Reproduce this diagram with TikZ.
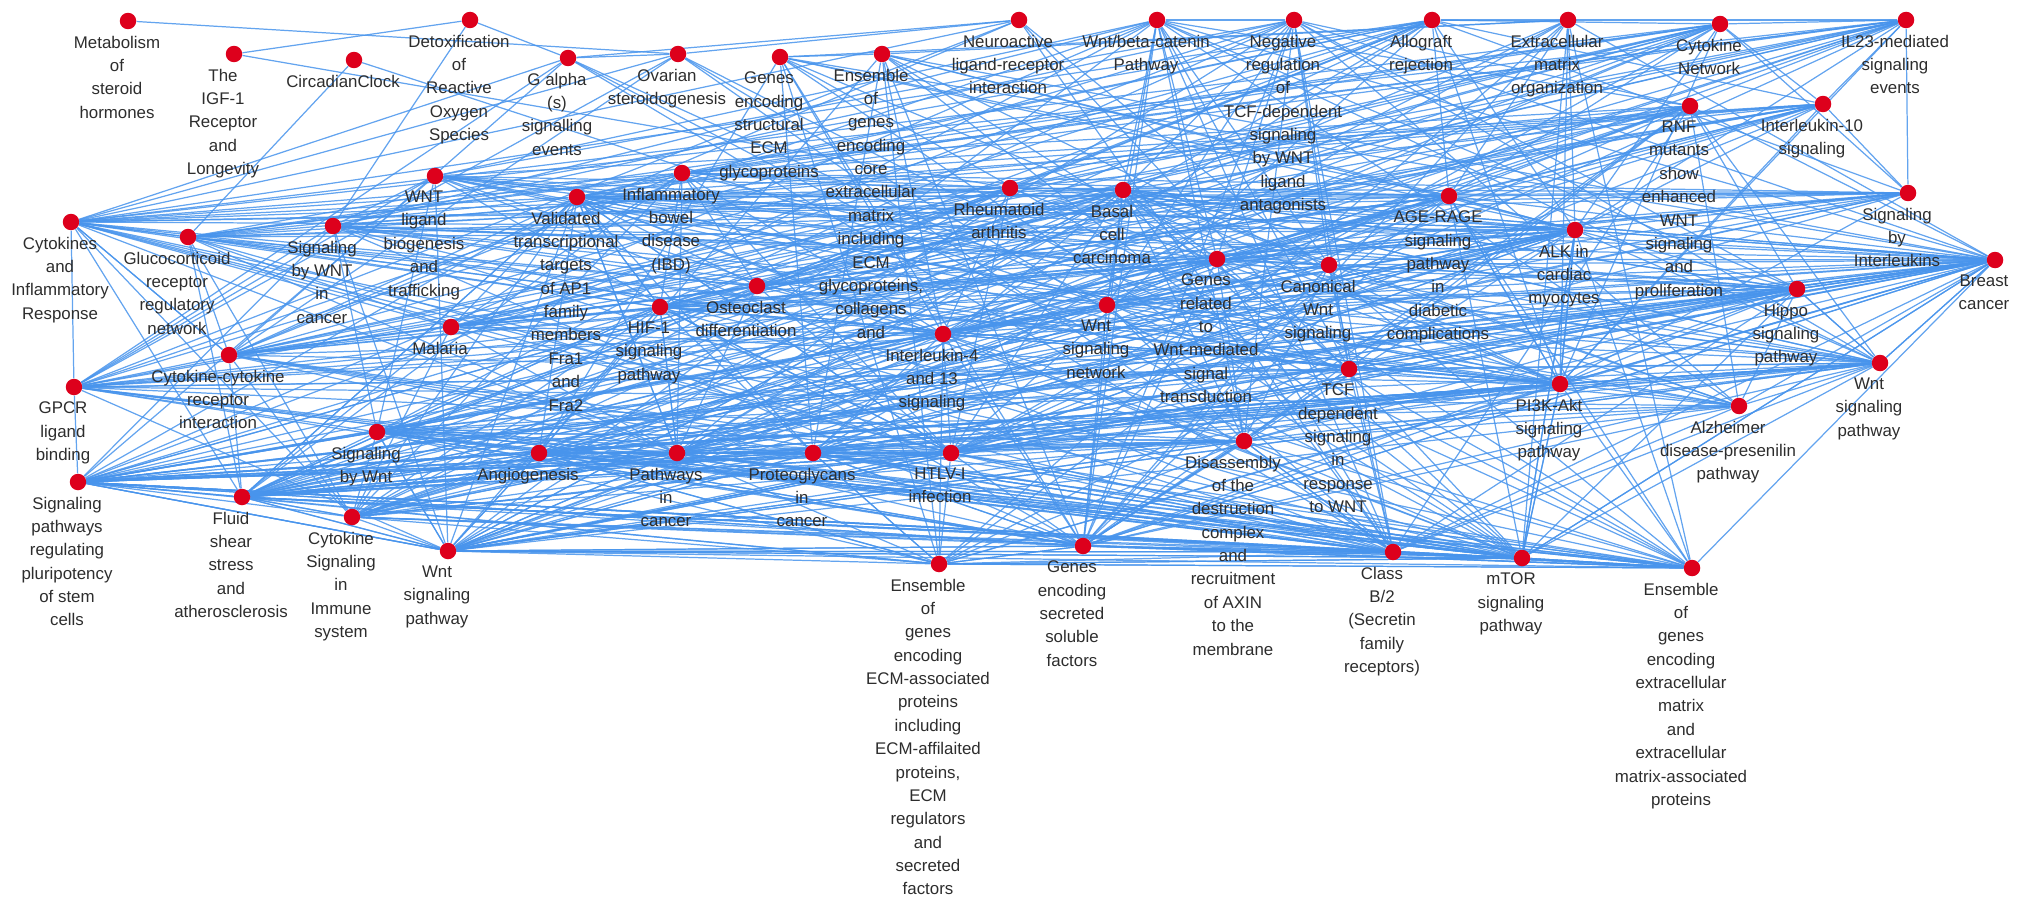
\documentclass[tikz,border=0pt]{standalone}
\usepackage{fontspec}
\setmainfont{Liberation Sans}
\usepackage{xcolor}
\usepackage{tikz}
\usetikzlibrary{positioning,backgrounds}

\definecolor{dotRed}{RGB}{221,0,28}
\definecolor{edgeBlue}{RGB}{72,148,236}
\definecolor{lblGray}{RGB}{45,45,45}

\tikzset{
  dot/.style = {circle, fill = dotRed, inner sep = 0pt, minimum size = 0.33cm},
  lbl/.style = {align = center, inner sep = 0pt, text = lblGray,
    font = \fontsize{9.6}{13.3}\selectfont, xshift = -0.22cm},
  link/.style = {edgeBlue, line width = 0.7pt, opacity = 0.85}
}

% every pair of a group gets a line
\newcommand{\linkgroup}[1]{%
  \foreach \a [count = \i] in {#1} {
    \foreach \b [count = \j] in {#1} {
      \ifnum\j>\i\relax \draw[link] (\a) -- (\b); \fi
    }
  }}

\begin{document}
\begin{tikzpicture}[x = 0.02cm, y = -0.02cm]
  \useasboundingbox (0,0) rectangle (2031,909);

  % top rows
  \node[dot] (met) at (128,21) {};
  \node[dot] (igf) at (234,54) {};
  \node[dot] (circ) at (354,60) {};
  \node[dot] (detox) at (470,20) {};
  \node[dot] (galpha) at (568,58) {};
  \node[dot] (ovar) at (678,54) {};
  \node[dot] (gestruct) at (780,57) {};
  \node[dot] (enscore) at (882,54) {};
  \node[dot] (neuro) at (1019,20) {};
  \node[dot] (wntbeta) at (1157,20) {};
  \node[dot] (negreg) at (1294,20) {};
  \node[dot] (allo) at (1432,20) {};
  \node[dot] (ecmorg) at (1568,20) {};
  \node[dot] (cytnet) at (1720,24) {};
  \node[dot] (il23) at (1906,20) {};
  \node[dot] (rnf) at (1690,106) {};
  \node[dot] (il10) at (1823,104) {};

  % middle
  \node[dot] (wntlig) at (435,176) {};
  \node[dot] (ibd) at (682,173) {};
  \node[dot] (ap1) at (577,197) {};
  \node[dot] (ra) at (1010,188) {};
  \node[dot] (bcc) at (1123,190) {};
  \node[dot] (agerage) at (1449,196) {};
  \node[dot] (sigil) at (1908,193) {};
  \node[dot] (cytinf) at (71,222) {};
  \node[dot] (gluco) at (188,237) {};
  \node[dot] (wntcancer) at (333,226) {};
  \node[dot] (alk) at (1575,230) {};
  \node[dot] (breast) at (1995,260) {};
  \node[dot] (wntmed) at (1217,259) {};
  \node[dot] (canon) at (1329,265) {};
  \node[dot] (osteo) at (757,286) {};
  \node[dot] (hif) at (660,307) {};
  \node[dot] (wntnet) at (1107,305) {};
  \node[dot] (hippo) at (1797,289) {};
  \node[dot] (malaria) at (451,327) {};
  \node[dot] (il4) at (943,334) {};
  \node[dot] (ccri) at (229,355) {};
  \node[dot] (gpcr) at (74,387) {};
  \node[dot] (tcf) at (1349,369) {};
  \node[dot] (wntpathr) at (1880,363) {};
  \node[dot] (pi3k) at (1560,384) {};
  \node[dot] (alz) at (1739,406) {};
  \node[dot] (sigwnt) at (377,432) {};
  \node[dot] (disasm) at (1244,441) {};
  \node[dot] (angio) at (539,453) {};
  \node[dot] (pathcan) at (677,453) {};
  \node[dot] (proteo) at (813,453) {};
  \node[dot] (htlv) at (951,453) {};

  % bottom rows
  \node[dot] (pluri) at (78,482) {};
  \node[dot] (fluid) at (242,497) {};
  \node[dot] (cytimm) at (352,517) {};
  \node[dot] (wntpathl) at (448,551) {};
  \node[dot] (ensassoc) at (939,564) {};
  \node[dot] (secreted) at (1083,546) {};
  \node[dot] (classb) at (1393,552) {};
  \node[dot] (mtor) at (1522,558) {};
  \node[dot] (ensecm) at (1692,568) {};

  \begin{scope}[on background layer]
    \draw[link] (met) -- (ovar);
    \draw[link] (igf) -- (detox);
    \draw[link] (igf) -- (ra);
    \draw[link] (circ) -- (gluco);
    \draw[link] (circ) -- (wntnet);
    \draw[link] (detox) -- (wntcancer);
    \draw[link] (detox) -- (galpha);

    % wnt
    \linkgroup{wntbeta,negreg,rnf,wntlig,wntcancer,wntmed,canon,wntnet,tcf,wntpathr,wntpathl,sigwnt,disasm,bcc,breast,alz,hippo,pluri,secreted,gpcr,classb}
    % immune
    \linkgroup{cytnet,il23,il10,sigil,cytinf,ccri,cytimm,ibd,ra,allo,malaria,il4,htlv,agerage,fluid,gluco,ap1,hif,osteo,pi3k,alk,pathcan}
    % matrix
    \linkgroup{ecmorg,enscore,gestruct,ensassoc,ensecm,secreted,proteo,pi3k,agerage,angio,alk,breast,il4,mtor}
    % cancer
    \linkgroup{pathcan,proteo,pi3k,mtor,breast,hippo,hif,bcc,angio,pluri,fluid,ap1,alk,wntpathl,wntpathr,htlv}
    % receptors
    \linkgroup{gpcr,classb,neuro,galpha,ovar,ccri,mtor,ensecm,cytinf}
    % lower band
    \linkgroup{pluri,fluid,cytimm,wntpathl,sigwnt,angio,pathcan,proteo,htlv,ensassoc,secreted,disasm,classb,mtor,ensecm}
  \end{scope}

  \node[lbl, below = 3.4pt of met] (met-l) {Metabolism\\of\\steroid\\hormones};
  \node[lbl, below = 3.4pt of igf] (igf-l) {The\\IGF-1\\Receptor\\and\\Longevity};
  \node[lbl, below = 3.4pt of circ] (circ-l) {CircadianClock};
  \node[lbl, below = 3.4pt of detox] (detox-l) {Detoxification\\of\\Reactive\\Oxygen\\Species};
  \node[lbl, below = 3.4pt of galpha] (galpha-l) {G alpha\\(s)\\signalling\\events};
  \node[lbl, below = 3.4pt of ovar] (ovar-l) {Ovarian\\steroidogenesis};
  \node[lbl, below = 3.4pt of gestruct] (gestruct-l) {Genes\\encoding\\structural\\ECM\\glycoproteins};
  \node[lbl, below = 3.4pt of enscore] (enscore-l) {Ensemble\\of\\genes\\encoding\\core\\extracellular\\matrix\\including\\ECM\\glycoproteins,\\collagens\\and};
  \node[lbl, below = 3.4pt of neuro] (neuro-l) {Neuroactive\\ligand-receptor\\interaction};
  \node[lbl, below = 3.4pt of wntbeta] (wntbeta-l) {Wnt/beta-catenin\\Pathway};
  \node[lbl, below = 3.4pt of negreg] (negreg-l) {Negative\\regulation\\of\\TCF-dependent\\signaling\\by WNT\\ligand\\antagonists};
  \node[lbl, below = 3.4pt of allo] (allo-l) {Allograft\\rejection};
  \node[lbl, below = 3.4pt of ecmorg] (ecmorg-l) {Extracellular\\matrix\\organization};
  \node[lbl, below = 3.4pt of cytnet] (cytnet-l) {Cytokine\\Network};
  \node[lbl, below = 3.4pt of il23] (il23-l) {IL23-mediated\\signaling\\events};
  \node[lbl, below = 3.4pt of rnf] (rnf-l) {RNF\\mutants\\show\\enhanced\\WNT\\signaling\\and\\proliferation};
  \node[lbl, below = 3.4pt of il10] (il10-l) {Interleukin-10\\signaling};
  \node[lbl, below = 3.4pt of wntlig] (wntlig-l) {WNT\\ligand\\biogenesis\\and\\trafficking};
  \node[lbl, below = 3.4pt of ibd] (ibd-l) {Inflammatory\\bowel\\disease\\(IBD)};
  \node[lbl, below = 3.4pt of ap1] (ap1-l) {Validated\\transcriptional\\targets\\of AP1\\family\\members\\Fra1\\and\\Fra2};
  \node[lbl, below = 3.4pt of ra] (ra-l) {Rheumatoid\\arthritis};
  \node[lbl, below = 3.4pt of bcc] (bcc-l) {Basal\\cell\\carcinoma};
  \node[lbl, below = 3.4pt of agerage] (agerage-l) {AGE-RAGE\\signaling\\pathway\\in\\diabetic\\complications};
  \node[lbl, below = 3.4pt of sigil] (sigil-l) {Signaling\\by\\Interleukins};
  \node[lbl, below = 3.4pt of cytinf] (cytinf-l) {Cytokines\\and\\Inflammatory\\Response};
  \node[lbl, below = 3.4pt of gluco] (gluco-l) {Glucocorticoid\\receptor\\regulatory\\network};
  \node[lbl, below = 3.4pt of wntcancer] (wntcancer-l) {Signaling\\by WNT\\in\\cancer};
  \node[lbl, below = 3.4pt of alk] (alk-l) {ALK in\\cardiac\\myocytes};
  \node[lbl, below = 3.4pt of breast] (breast-l) {Breast\\cancer};
  \node[lbl, below = 3.4pt of wntmed] (wntmed-l) {Genes\\related\\to\\Wnt-mediated\\signal\\transduction};
  \node[lbl, below = 3.4pt of canon] (canon-l) {Canonical\\Wnt\\signaling};
  \node[lbl, below = 3.4pt of osteo] (osteo-l) {Osteoclast\\differentiation};
  \node[lbl, below = 3.4pt of hif] (hif-l) {HIF-1\\signaling\\pathway};
  \node[lbl, below = 3.4pt of wntnet] (wntnet-l) {Wnt\\signaling\\network};
  \node[lbl, below = 3.4pt of hippo] (hippo-l) {Hippo\\signaling\\pathway};
  \node[lbl, below = 3.4pt of malaria] (malaria-l) {Malaria};
  \node[lbl, below = 3.4pt of il4] (il4-l) {Interleukin-4\\and 13\\signaling};
  \node[lbl, below = 3.4pt of ccri] (ccri-l) {Cytokine-cytokine\\receptor\\interaction};
  \node[lbl, below = 3.4pt of gpcr] (gpcr-l) {GPCR\\ligand\\binding};
  \node[lbl, below = 3.4pt of tcf] (tcf-l) {TCF\\dependent\\signaling\\in\\response\\to WNT};
  \node[lbl, below = 3.4pt of wntpathr] (wntpathr-l) {Wnt\\signaling\\pathway};
  \node[lbl, below = 3.4pt of pi3k] (pi3k-l) {PI3K-Akt\\signaling\\pathway};
  \node[lbl, below = 3.4pt of alz] (alz-l) {Alzheimer\\disease-presenilin\\pathway};
  \node[lbl, below = 3.4pt of sigwnt] (sigwnt-l) {Signaling\\by Wnt};
  \node[lbl, below = 3.4pt of disasm] (disasm-l) {Disassembly\\of the\\destruction\\complex\\and\\recruitment\\of AXIN\\to the\\membrane};
  \node[lbl, below = 3.4pt of angio] (angio-l) {Angiogenesis};
  \node[lbl, below = 3.4pt of pathcan] (pathcan-l) {Pathways\\in\\cancer};
  \node[lbl, below = 3.4pt of proteo] (proteo-l) {Proteoglycans\\in\\cancer};
  \node[lbl, below = 3.4pt of htlv] (htlv-l) {HTLV-I\\infection};
  \node[lbl, below = 3.4pt of pluri] (pluri-l) {Signaling\\pathways\\regulating\\pluripotency\\of stem\\cells};
  \node[lbl, below = 3.4pt of fluid] (fluid-l) {Fluid\\shear\\stress\\and\\atherosclerosis};
  \node[lbl, below = 3.4pt of cytimm] (cytimm-l) {Cytokine\\Signaling\\in\\Immune\\system};
  \node[lbl, below = 3.4pt of wntpathl] (wntpathl-l) {Wnt\\signaling\\pathway};
  \node[lbl, below = 3.4pt of ensassoc] (ensassoc-l) {Ensemble\\of\\genes\\encoding\\ECM-associated\\proteins\\including\\ECM-affilaited\\proteins,\\ECM\\regulators\\and\\secreted\\factors};
  \node[lbl, below = 3.4pt of secreted] (secreted-l) {Genes\\encoding\\secreted\\soluble\\factors};
  \node[lbl, below = 3.4pt of classb] (classb-l) {Class\\B/2\\(Secretin\\family\\receptors)};
  \node[lbl, below = 3.4pt of mtor] (mtor-l) {mTOR\\signaling\\pathway};
  \node[lbl, below = 3.4pt of ensecm] (ensecm-l) {Ensemble\\of\\genes\\encoding\\extracellular\\matrix\\and\\extracellular\\matrix-associated\\proteins};
\end{tikzpicture}
\end{document}
